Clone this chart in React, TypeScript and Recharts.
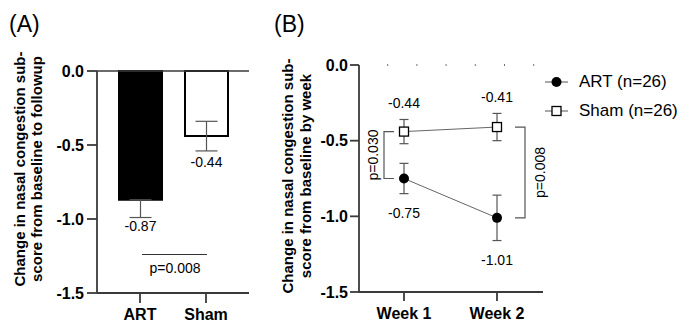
import React from 'react'
import {
  BarChart,
  Bar,
  Cell,
  LineChart,
  Line,
  XAxis,
  YAxis,
  ErrorBar,
  ReferenceLine,
  LabelList,
  Legend,
  Label,
} from 'recharts'

const FONT = '"Liberation Sans", Arial, Helvetica, sans-serif'

// (A) overall change, baseline to followup
const groups = ['ART', 'Sham']
const groupMeans = [-0.87, -0.44]
const groupErrLow = [0.12, 0.1]
const groupErrHigh = [0, 0.1]
const groupFills = ['#000', '#fff']

// (B) change by week
const weeks = ['Week 1', 'Week 2']
const artMeans = [-0.75, -1.01]
const artErr = [0.1, 0.15]
const shamMeans = [-0.44, -0.41]
const shamErr = [0.08, 0.09]

const yTicks = [0, -0.5, -1, -1.5]
const pOverall = 'p=0.008'
const pWeek1 = 'p=0.030'
const pWeek2 = 'p=0.008'
const pOverallLevel = -1.24

const barData = groups.map((g, i) => ({
  group: g,
  mean: groupMeans[i],
  err: [groupErrLow[i], groupErrHigh[i]],
}))

const lineData = weeks.map((w, i) => ({
  week: w,
  art: artMeans[i],
  artErr: artErr[i],
  sham: shamMeans[i],
  shamErr: shamErr[i],
}))

const AXIS = '#3a3a3a'
const tickStyle = { fill: '#000', fontSize: 16, fontWeight: 700, fontFamily: FONT }
const fmt1 = (v: number) => v.toFixed(1)

// px per y unit in panel B (plot height / domain span)
const B_TOP = 65
const B_BOTTOM = 30
const B_PPU = (322 - B_TOP - B_BOTTOM) / 1.5

const AxisTitle = ({ lines, x, cy }: { lines: string[]; x: number; cy: number }) => (
  <text
    transform={`rotate(-90 ${x} ${cy})`}
    x={x}
    y={cy}
    textAnchor="middle"
    fontFamily={FONT}
    fontWeight={700}
    fontSize={15}
    fill="#000"
  >
    {lines.map((l, i) => (
      <tspan key={i} x={x} dy={i === 0 ? 0 : 17.5}>
        {l}
      </tspan>
    ))}
  </text>
)

const BarValueLabel = (props: any) => {
  const { x, y, width, height, value } = props
  const bottom = Math.max(y, y + height)
  return (
    <text x={x + width / 2} y={bottom + 31} textAnchor="middle" fontSize={14} fontFamily={FONT} fill="#000">
      {Number(value).toFixed(2)}
    </text>
  )
}

const PLineShape = (props: any) => {
  const { x1, y1, x2 } = props
  const mid = (x1 + x2) / 2
  return (
    <g>
      <line x1={mid - 31} y1={y1} x2={mid + 34} y2={y1} stroke="#333" strokeWidth={1.2} />
      <text x={mid + 2} y={y1 + 18} textAnchor="middle" fontSize={14} fontFamily={FONT} fill="#000">
        {pOverall}
      </text>
    </g>
  )
}

function PanelA() {
  return (
    <BarChart width={262} height={322} data={barData} margin={{ top: 71, right: 13, bottom: 0, left: 0 }}>
      <XAxis
        dataKey="group"
        height={29}
        padding={{ left: 10, right: 10 }}
        tickSize={10}
        tickMargin={6}
        tick={tickStyle}
        axisLine={{ stroke: AXIS, strokeWidth: 1.8 }}
        tickLine={{ stroke: AXIS, strokeWidth: 1.8 }}
      />
      <YAxis
        width={97}
        domain={[-1.5, 0]}
        ticks={yTicks}
        tickFormatter={fmt1}
        tickSize={10}
        tickMargin={3}
        tick={tickStyle}
        axisLine={{ stroke: AXIS, strokeWidth: 1.8 }}
        tickLine={{ stroke: AXIS, strokeWidth: 1.8 }}
        label={
          <Label
            content={() => (
              <AxisTitle
                lines={['Change in nasal congestion sub-', 'score from baseline to followup']}
                x={24.5}
                cy={169}
              />
            )}
          />
        }
      />
      <ReferenceLine y={0} stroke={AXIS} strokeWidth={1.5} />
      <Bar dataKey="mean" barSize={43} stroke="#000" strokeWidth={2} isAnimationActive={false}>
        {barData.map((d, i) => (
          <Cell key={d.group} fill={groupFills[i]} />
        ))}
        <ErrorBar dataKey="err" direction="y" width={11} stroke="#555" strokeWidth={1.2} />
        <LabelList dataKey="mean" content={BarValueLabel} />
      </Bar>
      <ReferenceLine
        segment={[
          { x: 'ART', y: pOverallLevel },
          { x: 'Sham', y: pOverallLevel },
        ]}
        shape={PLineShape}
      />
    </BarChart>
  )
}

const ArtLabel = (props: any) => {
  const { x, y, value, index } = props
  return (
    <text x={x} y={y + artErr[index] * B_PPU + 24} textAnchor="middle" fontSize={14} fontFamily={FONT} fill="#000">
      {Number(value).toFixed(2)}
    </text>
  )
}

const ShamLabel = (props: any) => {
  const { x, y, value, index } = props
  return (
    <text x={x} y={y - shamErr[index] * B_PPU - 11} textAnchor="middle" fontSize={14} fontFamily={FONT} fill="#000">
      {Number(value).toFixed(2)}
    </text>
  )
}

const SquareDot = (props: any) => {
  const { cx, cy } = props
  if (cx == null || cy == null) return null
  return <rect x={cx - 4.5} y={cy - 4.5} width={9} height={9} fill="#fff" stroke="#000" strokeWidth={1.3} />
}

const CircleDot = (props: any) => {
  const { cx, cy } = props
  if (cx == null || cy == null) return null
  return <circle cx={cx} cy={cy} r={5} fill="#000" />
}

const LeftBracket = (props: any) => {
  const { x1, y1, y2 } = props
  const vx = x1 - 20
  return (
    <g>
      <path d={`M${x1 - 10},${y1} H${vx} V${y2} H${x1 - 10}`} fill="none" stroke="#555" strokeWidth={1.2} />
      <text
        transform={`rotate(-90 ${vx - 6} ${(y1 + y2) / 2})`}
        x={vx - 6}
        y={(y1 + y2) / 2}
        textAnchor="middle"
        fontSize={14}
        fontFamily={FONT}
        fill="#000"
      >
        {pWeek1}
      </text>
    </g>
  )
}

const RightBracket = (props: any) => {
  const { x1, y1, y2 } = props
  const vx = x1 + 28
  return (
    <g>
      <path d={`M${x1 + 18},${y1} H${vx} V${y2} H${x1 + 18}`} fill="none" stroke="#555" strokeWidth={1.2} />
      <text
        transform={`rotate(-90 ${vx + 20} ${(y1 + y2) / 2})`}
        x={vx + 20}
        y={(y1 + y2) / 2}
        textAnchor="middle"
        fontSize={14}
        fontFamily={FONT}
        fill="#000"
      >
        {pWeek2}
      </text>
    </g>
  )
}

const LegendBox = (props: any) => {
  const { payload } = props
  return (
    <div style={{ fontFamily: FONT, fontSize: 17, color: '#000' }}>
      {(payload || []).map((p: any) => (
        <div key={p.value} style={{ display: 'flex', alignItems: 'center', height: 29 }}>
          <svg width={23} height={14} style={{ marginRight: 11 }}>
            <line x1={0} y1={7} x2={23} y2={7} stroke="#555" strokeWidth={1} />
            {p.dataKey === 'art' ? (
              <circle cx={11.5} cy={7} r={5} fill="#000" />
            ) : (
              <rect x={7} y={2.5} width={9} height={9} fill="#fff" stroke="#000" strokeWidth={1.3} />
            )}
          </svg>
          <span>{p.value}</span>
        </div>
      ))}
    </div>
  )
}

function PanelB() {
  return (
    <LineChart width={420} height={322} data={lineData} margin={{ top: B_TOP, right: 139, bottom: 0, left: 0 }}>
      <XAxis
        dataKey="week"
        height={B_BOTTOM}
        padding={{ left: 45, right: 46 }}
        tickSize={9}
        tickMargin={7}
        tick={tickStyle}
        axisLine={{ stroke: AXIS, strokeWidth: 1.8 }}
        tickLine={{ stroke: AXIS, strokeWidth: 1.8 }}
      />
      <YAxis
        width={97}
        domain={[-1.5, 0]}
        ticks={yTicks}
        tickFormatter={fmt1}
        tickSize={9}
        tickMargin={2}
        tick={tickStyle}
        axisLine={{ stroke: AXIS, strokeWidth: 1.8 }}
        tickLine={{ stroke: AXIS, strokeWidth: 1.8 }}
        label={
          <Label
            content={() => (
              <AxisTitle
                lines={['Change in nasal congestion sub-', 'score from baseline by week']}
                x={31}
                cy={176}
              />
            )}
          />
        }
      />
      <ReferenceLine y={0} stroke="#444" strokeWidth={1.5} strokeDasharray="0 28.2 1 0" />
      <Legend
        content={LegendBox}
        layout="horizontal"
        verticalAlign="middle"
        align="center"
        wrapperStyle={{ top: 67, left: 283, width: 137 }}
      />
      <ReferenceLine
        segment={[
          { x: 'Week 1', y: shamMeans[0] },
          { x: 'Week 1', y: artMeans[0] },
        ]}
        shape={LeftBracket}
      />
      <ReferenceLine
        segment={[
          { x: 'Week 2', y: shamMeans[1] },
          { x: 'Week 2', y: artMeans[1] },
        ]}
        shape={RightBracket}
      />
      <Line
        dataKey="art"
        name="ART (n=26)"
        stroke="#666"
        strokeWidth={1}
        dot={<CircleDot />}
        activeDot={false}
        isAnimationActive={false}
      >
        <ErrorBar dataKey="artErr" direction="y" width={4.5} stroke="#555" strokeWidth={1.2} />
        <LabelList dataKey="art" content={ArtLabel} />
      </Line>
      <Line
        dataKey="sham"
        name="Sham (n=26)"
        stroke="#666"
        strokeWidth={1}
        dot={<SquareDot />}
        activeDot={false}
        isAnimationActive={false}
      >
        <ErrorBar dataKey="shamErr" direction="y" width={4.5} stroke="#555" strokeWidth={1.2} />
        <LabelList dataKey="sham" content={ShamLabel} />
      </Line>
    </LineChart>
  )
}

export default function App() {
  return (
    <div style={{ position: 'relative', width: 682, height: 322, background: '#fff', overflow: 'hidden' }}>
      <style>{'body{margin:0}'}</style>
      <div style={{ position: 'absolute', left: 0, top: 0 }}>
        <PanelA />
      </div>
      <div style={{ position: 'absolute', left: 262, top: 0 }}>
        <PanelB />
      </div>
      <svg width={682} height={40} style={{ position: 'absolute', left: 0, top: 0, pointerEvents: 'none' }}>
        <text x={9} y={32} fontSize={23} fontFamily={FONT} fill="#000">
          (A)
        </text>
        <text x={274} y={32} fontSize={23} fontFamily={FONT} fill="#000">
          (B)
        </text>
      </svg>
    </div>
  )
}
